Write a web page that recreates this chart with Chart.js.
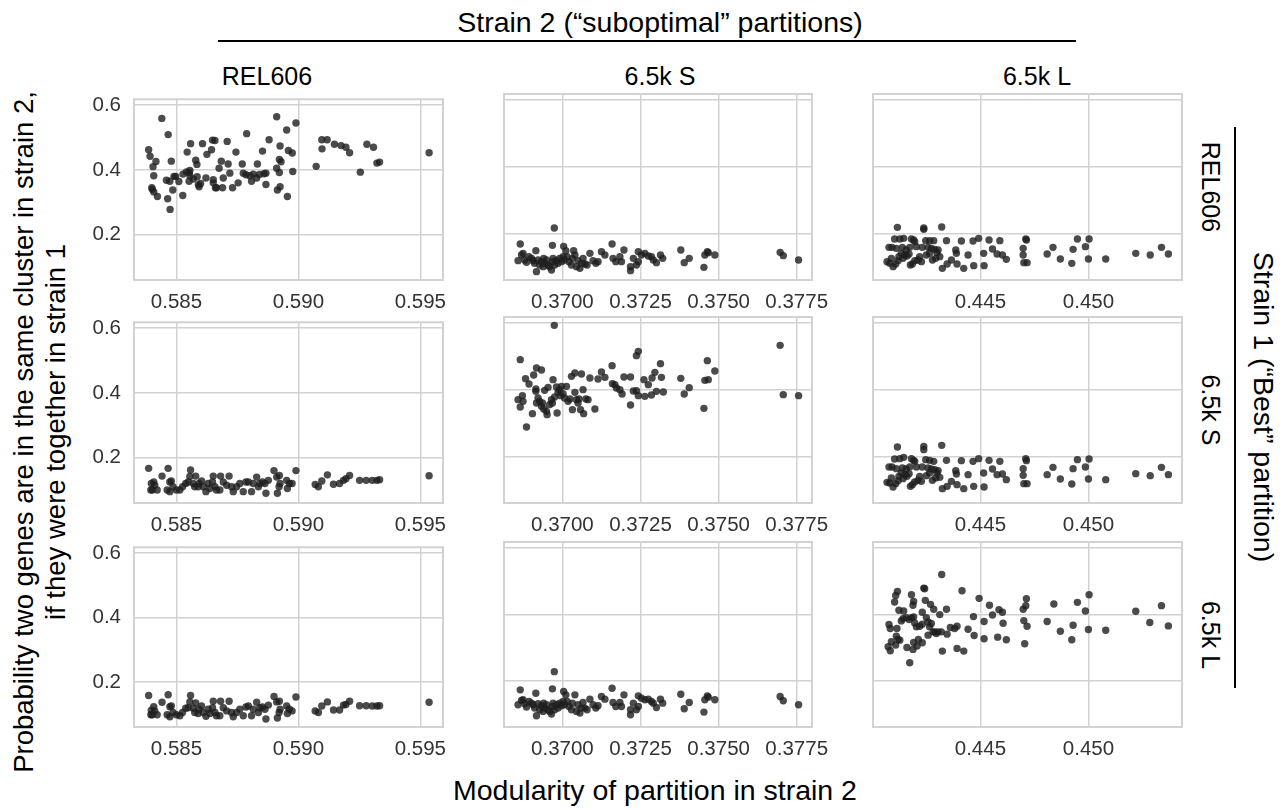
<!DOCTYPE html>
<html>
<head>
<meta charset="utf-8">
<title>Partition co-clustering</title>
<script src="https://cdn.jsdelivr.net/npm/chart.js@4.4.1/dist/chart.umd.min.js"></script>
<style>
  body { margin: 0; background: #fff; }
  #wrap { position: relative; width: 1286px; height: 810px; overflow: hidden; font-family: "Liberation Sans", Arial, sans-serif; color: #000; }
  canvas { position: absolute; }
  .lbl { position: absolute; white-space: nowrap; font-size: 25px; transform: translate(-50%, -50%); }
  .big { font-size: 28.5px; }
  .rot90 { transform: translate(-50%, -50%) rotate(90deg); }
  .rotm90 { transform: translate(-50%, -50%) rotate(-90deg); text-align: center; line-height: 32px; font-size: 27.5px; }
  .rule { position: absolute; background: #000; }
</style>
</head>
<body>
<div id="wrap">
  <div class="lbl big" style="left:660px; top:22px;">Strain 2 (“suboptimal” partitions)</div>
  <div class="rule" style="left:218px; top:40px; width:858px; height:2px;"></div>
  <div class="lbl" style="left:267px; top:76px;">REL606</div>
  <div class="lbl" style="left:660px; top:76px;">6.5k S</div>
  <div class="lbl" style="left:1037px; top:76px;">6.5k L</div>

  <div class="lbl rot90" style="left:1210px; top:187px;">REL606</div>
  <div class="lbl rot90" style="left:1210px; top:410px;">6.5k S</div>
  <div class="lbl rot90" style="left:1210px; top:635px;">6.5k L</div>
  <div class="rule" style="left:1234px; top:127px; width:2px; height:561px;"></div>
  <div class="lbl big rot90" style="left:1263px; top:407px;">Strain 1 (“Best” partition)</div>

  <div class="lbl rotm90" style="left:40px; top:432px;">Probability two genes are in the same cluster in strain 2,<br>if they were together in strain 1</div>
  <div class="lbl big" style="left:655px; top:790px;">Modularity of partition in strain 2</div>
</div>

<script>
// strain 1 partition (rows) vs strain 2 partition (columns)
const rowNames = ["REL606", "6.5k S", "6.5k L"];
const colNames = ["REL606", "6.5k S", "6.5k L"];

const yTicks = [0.2, 0.4, 0.6];
const yRange = [0.06, 0.618];

const xTicksRel = [0.585, 0.590, 0.595];
const xTicksS = [0.3700, 0.3725, 0.3750, 0.3775];
const xTicksL = [0.445, 0.450];
const xRangeRel = [0.58326, 0.59593];
const xRangeS = [0.36813, 0.37799];
const xRangeL = [0.44003, 0.45433];

// each point: [modularity in strain 2, probability]
const relRel = [[0.58386,0.462],[0.58392,0.442],[0.58416,0.426],[0.58404,0.410],[0.58407,0.382],[0.58399,0.345],[0.58401,0.340],[0.58407,0.332],[0.58422,0.318],[0.58440,0.559],[0.58466,0.509],[0.58464,0.311],[0.58474,0.278],[0.58479,0.427],[0.58485,0.338],[0.58459,0.368],[0.58473,0.365],[0.58490,0.380],[0.58497,0.380],[0.58510,0.364],[0.58526,0.321],[0.58527,0.387],[0.58541,0.394],[0.58552,0.392],[0.58544,0.455],[0.58558,0.481],[0.58555,0.398],[0.58555,0.382],[0.58552,0.365],[0.58569,0.372],[0.58579,0.430],[0.58584,0.417],[0.58585,0.379],[0.58590,0.354],[0.58593,0.348],[0.58599,0.358],[0.58607,0.481],[0.58621,0.375],[0.58625,0.448],[0.58644,0.462],[0.58648,0.492],[0.58658,0.491],[0.58651,0.370],[0.58651,0.360],[0.58660,0.345],[0.58664,0.345],[0.58675,0.405],[0.58684,0.427],[0.58689,0.345],[0.58692,0.375],[0.58708,0.488],[0.58712,0.418],[0.58719,0.390],[0.58730,0.345],[0.58744,0.455],[0.58753,0.360],[0.58770,0.418],[0.58774,0.390],[0.58788,0.512],[0.58785,0.385],[0.58801,0.382],[0.58808,0.365],[0.58815,0.387],[0.58832,0.418],[0.58829,0.375],[0.58840,0.386],[0.58853,0.458],[0.58859,0.388],[0.58867,0.390],[0.58867,0.355],[0.58880,0.493],[0.58911,0.564],[0.58911,0.405],[0.58914,0.338],[0.58922,0.432],[0.58922,0.392],[0.58925,0.348],[0.58925,0.474],[0.58929,0.425],[0.58952,0.523],[0.58955,0.318],[0.58959,0.460],[0.58975,0.452],[0.58977,0.395],[0.58990,0.545],[0.59073,0.411],[0.59096,0.493],[0.59097,0.465],[0.59118,0.493],[0.59148,0.479],[0.59175,0.475],[0.59195,0.470],[0.59210,0.453],[0.59254,0.393],[0.59281,0.479],[0.59308,0.470],[0.59322,0.421],[0.59333,0.424],[0.59536,0.453]];

const relS = [[0.36865,0.168],[0.36974,0.216],[0.36968,0.164],[0.37004,0.161],[0.37011,0.148],[0.36858,0.118],[0.36869,0.135],[0.36874,0.140],[0.36879,0.120],[0.36885,0.113],[0.36893,0.130],[0.36901,0.125],[0.36906,0.118],[0.36911,0.110],[0.36915,0.148],[0.36917,0.085],[0.36922,0.120],[0.36927,0.105],[0.36933,0.115],[0.36938,0.100],[0.36940,0.125],[0.36943,0.110],[0.36949,0.120],[0.36954,0.105],[0.36959,0.100],[0.36965,0.090],[0.36968,0.115],[0.36970,0.125],[0.36975,0.105],[0.36981,0.118],[0.36986,0.110],[0.36991,0.125],[0.36997,0.115],[0.37002,0.130],[0.37007,0.120],[0.37015,0.130],[0.37021,0.115],[0.37029,0.105],[0.37032,0.125],[0.37036,0.148],[0.37040,0.135],[0.37045,0.100],[0.37050,0.118],[0.37056,0.095],[0.37061,0.110],[0.37066,0.125],[0.37072,0.108],[0.37079,0.105],[0.37088,0.140],[0.37098,0.118],[0.37107,0.110],[0.37114,0.115],[0.37125,0.145],[0.37136,0.135],[0.37159,0.168],[0.37162,0.125],[0.37171,0.115],[0.37184,0.130],[0.37189,0.115],[0.37197,0.150],[0.37218,0.100],[0.37218,0.088],[0.37227,0.125],[0.37237,0.105],[0.37243,0.145],[0.37243,0.115],[0.37253,0.135],[0.37264,0.140],[0.37275,0.132],[0.37285,0.130],[0.37291,0.120],[0.37301,0.112],[0.37314,0.135],[0.37321,0.125],[0.37379,0.150],[0.37390,0.112],[0.37406,0.125],[0.37453,0.098],[0.37456,0.135],[0.37464,0.145],[0.37467,0.142],[0.37488,0.135],[0.37697,0.143],[0.37707,0.133],[0.37756,0.120]];

const relL = [[0.44116,0.218],[0.44238,0.216],[0.44238,0.212],[0.44321,0.219],[0.44103,0.183],[0.44127,0.183],[0.44145,0.185],[0.44181,0.183],[0.44191,0.180],[0.44196,0.175],[0.44247,0.178],[0.44265,0.178],[0.44284,0.178],[0.44343,0.178],[0.44412,0.177],[0.44466,0.177],[0.44492,0.185],[0.44540,0.180],[0.44590,0.178],[0.44710,0.183],[0.44713,0.180],[0.44949,0.183],[0.45003,0.183],[0.44077,0.158],[0.44091,0.158],[0.44111,0.155],[0.44139,0.158],[0.44157,0.150],[0.44173,0.158],[0.44204,0.160],[0.44231,0.158],[0.44258,0.158],[0.44273,0.155],[0.44289,0.152],[0.44304,0.150],[0.44386,0.150],[0.44556,0.153],[0.44698,0.155],[0.44836,0.158],[0.44929,0.152],[0.44986,0.160],[0.45338,0.158],[0.44068,0.115],[0.44080,0.110],[0.44096,0.100],[0.44108,0.108],[0.44119,0.118],[0.44123,0.130],[0.44134,0.140],[0.44150,0.135],[0.44160,0.132],[0.44170,0.138],[0.44176,0.105],[0.44185,0.108],[0.44196,0.118],[0.44211,0.120],[0.44227,0.115],[0.44250,0.135],[0.44265,0.140],[0.44278,0.120],[0.44293,0.125],[0.44312,0.130],[0.44324,0.095],[0.44346,0.108],[0.44366,0.120],[0.44389,0.140],[0.44392,0.108],[0.44423,0.095],[0.44443,0.135],[0.44469,0.103],[0.44515,0.140],[0.44517,0.103],[0.44577,0.138],[0.44602,0.135],[0.44620,0.122],[0.44698,0.135],[0.44701,0.112],[0.44716,0.112],[0.44809,0.138],[0.44870,0.123],[0.44923,0.110],[0.45000,0.123],[0.45080,0.123],[0.45219,0.140],[0.45286,0.135],[0.45370,0.138],[0.44088,0.125],[0.44142,0.125],[0.44219,0.130],[0.44299,0.142]];

const sRel = [[0.58386,0.167],[0.58466,0.167],[0.58441,0.143],[0.58397,0.120],[0.58407,0.125],[0.58401,0.100],[0.58411,0.115],[0.58421,0.100],[0.58395,0.100],[0.58473,0.125],[0.58479,0.128],[0.58462,0.100],[0.58473,0.095],[0.58486,0.110],[0.58500,0.100],[0.58514,0.100],[0.58525,0.110],[0.58538,0.120],[0.58548,0.125],[0.58555,0.142],[0.58558,0.162],[0.58569,0.120],[0.58575,0.110],[0.58579,0.143],[0.58589,0.110],[0.58593,0.120],[0.58603,0.128],[0.58610,0.110],[0.58621,0.095],[0.58630,0.120],[0.58637,0.105],[0.58648,0.125],[0.58651,0.143],[0.58658,0.110],[0.58664,0.100],[0.58678,0.100],[0.58681,0.143],[0.58692,0.125],[0.58706,0.115],[0.58716,0.143],[0.58726,0.110],[0.58733,0.095],[0.58747,0.110],[0.58760,0.120],[0.58774,0.095],[0.58785,0.125],[0.58795,0.125],[0.58808,0.095],[0.58815,0.120],[0.58829,0.140],[0.58836,0.110],[0.58842,0.120],[0.58853,0.125],[0.58863,0.120],[0.58867,0.090],[0.58877,0.130],[0.58900,0.160],[0.58911,0.140],[0.58914,0.090],[0.58921,0.110],[0.58925,0.120],[0.58922,0.145],[0.58952,0.130],[0.58955,0.105],[0.58963,0.120],[0.58974,0.120],[0.58990,0.160],[0.59069,0.117],[0.59082,0.110],[0.59096,0.128],[0.59119,0.147],[0.59144,0.118],[0.59169,0.120],[0.59185,0.130],[0.59195,0.135],[0.59210,0.145],[0.59251,0.130],[0.59278,0.130],[0.59303,0.130],[0.59322,0.130],[0.59333,0.132],[0.59536,0.144]];

const sS = [[0.36974,0.593],[0.36865,0.490],[0.36882,0.433],[0.36893,0.417],[0.36908,0.444],[0.36917,0.465],[0.36933,0.459],[0.36858,0.370],[0.36872,0.382],[0.36865,0.348],[0.36874,0.365],[0.36885,0.288],[0.36904,0.328],[0.36915,0.402],[0.36915,0.395],[0.36917,0.360],[0.36922,0.375],[0.36927,0.365],[0.36933,0.350],[0.36936,0.360],[0.36940,0.342],[0.36943,0.398],[0.36949,0.335],[0.36951,0.325],[0.36954,0.407],[0.36959,0.355],[0.36965,0.370],[0.36968,0.360],[0.36970,0.430],[0.36975,0.378],[0.36981,0.408],[0.36983,0.330],[0.36986,0.392],[0.36991,0.400],[0.36994,0.382],[0.36997,0.410],[0.37002,0.388],[0.37007,0.375],[0.37013,0.410],[0.37018,0.365],[0.37024,0.372],[0.37029,0.440],[0.37032,0.340],[0.37040,0.450],[0.37040,0.392],[0.37045,0.370],[0.37050,0.360],[0.37053,0.372],[0.37058,0.340],[0.37061,0.447],[0.37066,0.400],[0.37068,0.328],[0.37075,0.372],[0.37082,0.370],[0.37088,0.435],[0.37104,0.342],[0.37114,0.432],[0.37125,0.453],[0.37136,0.437],[0.37159,0.472],[0.37160,0.418],[0.37168,0.415],[0.37173,0.405],[0.37184,0.400],[0.37191,0.387],[0.37197,0.438],[0.37218,0.438],[0.37218,0.354],[0.37227,0.396],[0.37237,0.502],[0.37243,0.515],[0.37237,0.397],[0.37243,0.382],[0.37261,0.430],[0.37264,0.380],[0.37275,0.415],[0.37285,0.384],[0.37287,0.435],[0.37296,0.452],[0.37301,0.395],[0.37314,0.478],[0.37317,0.437],[0.37323,0.393],[0.37379,0.434],[0.37390,0.387],[0.37406,0.406],[0.37453,0.344],[0.37456,0.428],[0.37464,0.487],[0.37467,0.430],[0.37488,0.456],[0.37697,0.533],[0.37707,0.385],[0.37756,0.382]];

const sL = [[0.44116,0.228],[0.44238,0.230],[0.44238,0.220],[0.44321,0.233],[0.44103,0.192],[0.44127,0.193],[0.44145,0.197],[0.44181,0.193],[0.44191,0.188],[0.44196,0.185],[0.44247,0.190],[0.44265,0.188],[0.44284,0.185],[0.44343,0.188],[0.44412,0.187],[0.44466,0.185],[0.44492,0.193],[0.44540,0.188],[0.44590,0.185],[0.44710,0.193],[0.44713,0.187],[0.44949,0.190],[0.45003,0.192],[0.44077,0.168],[0.44091,0.168],[0.44111,0.163],[0.44139,0.165],[0.44157,0.162],[0.44173,0.168],[0.44204,0.168],[0.44231,0.168],[0.44258,0.165],[0.44273,0.162],[0.44289,0.160],[0.44304,0.157],[0.44386,0.157],[0.44556,0.162],[0.44698,0.163],[0.44836,0.167],[0.44929,0.163],[0.44986,0.168],[0.45338,0.167],[0.44068,0.122],[0.44080,0.120],[0.44096,0.108],[0.44108,0.118],[0.44119,0.127],[0.44123,0.140],[0.44134,0.150],[0.44150,0.145],[0.44160,0.140],[0.44170,0.148],[0.44176,0.110],[0.44185,0.115],[0.44196,0.123],[0.44211,0.128],[0.44227,0.125],[0.44250,0.142],[0.44265,0.150],[0.44278,0.128],[0.44293,0.135],[0.44312,0.137],[0.44324,0.103],[0.44346,0.110],[0.44366,0.125],[0.44389,0.147],[0.44392,0.115],[0.44423,0.103],[0.44443,0.145],[0.44469,0.110],[0.44515,0.150],[0.44517,0.108],[0.44577,0.145],[0.44602,0.147],[0.44620,0.130],[0.44698,0.143],[0.44701,0.118],[0.44716,0.118],[0.44809,0.145],[0.44870,0.132],[0.44923,0.117],[0.45000,0.132],[0.45080,0.130],[0.45219,0.148],[0.45286,0.142],[0.45370,0.145],[0.44088,0.135],[0.44142,0.133],[0.44219,0.140],[0.44299,0.150]];

const lRel = [[0.58386,0.158],[0.58466,0.160],[0.58441,0.137],[0.58397,0.112],[0.58407,0.123],[0.58401,0.098],[0.58411,0.110],[0.58421,0.098],[0.58395,0.098],[0.58473,0.123],[0.58479,0.125],[0.58462,0.098],[0.58473,0.092],[0.58486,0.105],[0.58500,0.098],[0.58514,0.095],[0.58525,0.105],[0.58538,0.118],[0.58548,0.120],[0.58555,0.138],[0.58558,0.158],[0.58569,0.118],[0.58575,0.105],[0.58579,0.135],[0.58589,0.102],[0.58593,0.115],[0.58603,0.125],[0.58610,0.105],[0.58621,0.093],[0.58630,0.115],[0.58637,0.102],[0.58648,0.120],[0.58651,0.140],[0.58658,0.105],[0.58664,0.095],[0.58678,0.095],[0.58681,0.140],[0.58692,0.120],[0.58706,0.110],[0.58716,0.140],[0.58726,0.105],[0.58733,0.092],[0.58747,0.105],[0.58760,0.115],[0.58774,0.095],[0.58785,0.122],[0.58795,0.125],[0.58808,0.095],[0.58815,0.115],[0.58829,0.137],[0.58836,0.105],[0.58842,0.120],[0.58853,0.122],[0.58863,0.115],[0.58867,0.085],[0.58877,0.128],[0.58900,0.155],[0.58911,0.138],[0.58914,0.088],[0.58921,0.105],[0.58925,0.115],[0.58922,0.140],[0.58952,0.125],[0.58955,0.102],[0.58963,0.115],[0.58974,0.110],[0.58990,0.153],[0.59069,0.110],[0.59082,0.105],[0.59096,0.125],[0.59119,0.138],[0.59144,0.113],[0.59169,0.113],[0.59185,0.128],[0.59195,0.130],[0.59210,0.140],[0.59251,0.126],[0.59278,0.126],[0.59303,0.125],[0.59322,0.125],[0.59333,0.126],[0.59536,0.137]];

const lS = [[0.36865,0.172],[0.36974,0.227],[0.36968,0.175],[0.37004,0.167],[0.37011,0.157],[0.36858,0.127],[0.36869,0.140],[0.36874,0.142],[0.36879,0.130],[0.36885,0.120],[0.36893,0.137],[0.36901,0.132],[0.36906,0.127],[0.36911,0.117],[0.36915,0.162],[0.36917,0.094],[0.36922,0.130],[0.36927,0.112],[0.36933,0.124],[0.36938,0.107],[0.36940,0.132],[0.36943,0.117],[0.36949,0.127],[0.36954,0.112],[0.36959,0.107],[0.36965,0.099],[0.36968,0.122],[0.36970,0.132],[0.36975,0.112],[0.36981,0.127],[0.36986,0.117],[0.36991,0.132],[0.36997,0.124],[0.37002,0.137],[0.37007,0.127],[0.37015,0.137],[0.37021,0.122],[0.37029,0.112],[0.37032,0.132],[0.37040,0.157],[0.37045,0.107],[0.37050,0.127],[0.37056,0.102],[0.37061,0.117],[0.37066,0.134],[0.37072,0.117],[0.37079,0.112],[0.37088,0.144],[0.37098,0.127],[0.37107,0.117],[0.37114,0.124],[0.37125,0.152],[0.37136,0.144],[0.37159,0.177],[0.37162,0.134],[0.37171,0.122],[0.37184,0.134],[0.37189,0.122],[0.37197,0.157],[0.37218,0.112],[0.37218,0.097],[0.37227,0.132],[0.37237,0.112],[0.37243,0.154],[0.37243,0.122],[0.37253,0.147],[0.37264,0.142],[0.37275,0.144],[0.37285,0.137],[0.37291,0.132],[0.37301,0.119],[0.37314,0.144],[0.37321,0.132],[0.37379,0.159],[0.37390,0.115],[0.37406,0.134],[0.37453,0.105],[0.37456,0.142],[0.37464,0.154],[0.37467,0.150],[0.37488,0.142],[0.37697,0.152],[0.37707,0.139],[0.37756,0.127]];

const lL = [[0.44321,0.520],[0.44238,0.479],[0.44242,0.477],[0.44415,0.471],[0.44116,0.469],[0.44108,0.457],[0.44181,0.459],[0.44103,0.437],[0.44191,0.439],[0.44245,0.442],[0.44269,0.430],[0.44284,0.415],[0.44494,0.448],[0.44542,0.427],[0.44713,0.447],[0.44698,0.415],[0.44710,0.426],[0.44840,0.431],[0.44949,0.436],[0.45003,0.459],[0.44986,0.410],[0.45219,0.409],[0.45338,0.426],[0.44123,0.412],[0.44145,0.410],[0.44188,0.427],[0.44231,0.406],[0.44312,0.399],[0.44343,0.415],[0.44586,0.414],[0.44602,0.406],[0.44605,0.373],[0.44468,0.393],[0.44517,0.378],[0.44556,0.398],[0.44701,0.381],[0.44716,0.364],[0.44809,0.378],[0.44929,0.367],[0.45000,0.354],[0.45080,0.352],[0.45284,0.375],[0.45370,0.365],[0.44077,0.369],[0.44083,0.357],[0.44114,0.357],[0.44134,0.380],[0.44142,0.387],[0.44157,0.390],[0.44170,0.384],[0.44181,0.390],[0.44191,0.392],[0.44196,0.374],[0.44204,0.362],[0.44219,0.364],[0.44231,0.370],[0.44250,0.390],[0.44258,0.377],[0.44265,0.362],[0.44273,0.372],[0.44281,0.347],[0.44289,0.347],[0.44304,0.347],[0.44319,0.347],[0.44346,0.340],[0.44361,0.360],[0.44381,0.357],[0.44392,0.364],[0.44443,0.355],[0.44471,0.336],[0.44517,0.326],[0.44580,0.331],[0.44620,0.323],[0.44705,0.311],[0.44870,0.349],[0.44923,0.323],[0.44111,0.334],[0.44119,0.324],[0.44127,0.322],[0.44088,0.317],[0.44073,0.302],[0.44083,0.290],[0.44108,0.307],[0.44160,0.300],[0.44188,0.294],[0.44191,0.315],[0.44207,0.304],[0.44231,0.314],[0.44213,0.324],[0.44173,0.254],[0.44324,0.289],[0.44392,0.297],[0.44423,0.289],[0.44258,0.337],[0.44296,0.342]];

const panels = [
  [relRel, relS, relL],
  [sRel, sS, sL],
  [lRel, lS, lL]
];
const colTicks = [xTicksRel, xTicksS, xTicksL];
const colRanges = [xRangeRel, xRangeS, xRangeL];
const colDecimals = [3, 4, 3];

// plot area edges in the page
const colEdges = [[134, 443], [504, 812], [873, 1182]];
const rowEdges = [[94, 280], [317, 503], [542, 727]];

const gridColor = '#d2d2d2';
const tickColor = '#333';
const fontFamily = '"Liberation Sans", Arial, sans-serif';

const framePlugin = {
  id: 'frame',
  beforeDatasetsDraw(chart) {
    const a = chart.chartArea;
    const ctx = chart.ctx;
    ctx.save();
    ctx.strokeStyle = gridColor;
    ctx.lineWidth = 2;
    ctx.strokeRect(a.left, a.top, a.right - a.left, a.bottom - a.top);
    ctx.restore();
  }
};

const wrap = document.getElementById('wrap');
const padT = 20, padR = 44, padB = 40;

for (let r = 0; r < 3; r++) {
  for (let c = 0; c < 3; c++) {
    const padL = c === 0 ? 70 : 4;
    const [x0, x1] = colEdges[c];
    const [y0, y1] = rowEdges[r];
    const cv = document.createElement('canvas');
    cv.width = padL + (x1 - x0) + padR;
    cv.height = padT + (y1 - y0) + padB;
    cv.style.left = (x0 - padL) + 'px';
    cv.style.top = (y0 - padT) + 'px';
    wrap.appendChild(cv);

    const xt = colTicks[c];
    const dec = colDecimals[c];

    new Chart(cv, {
      type: 'scatter',
      data: {
        datasets: [{
          data: panels[r][c].map(p => ({ x: p[0], y: p[1] })),
          backgroundColor: 'rgba(30,30,30,0.8)',
          borderWidth: 0,
          pointRadius: 3.7,
          pointHoverRadius: 3.7
        }]
      },
      options: {
        responsive: false,
        animation: false,
        devicePixelRatio: 1,
        layout: { padding: { top: padT, right: padR, left: 0, bottom: 0 } },
        plugins: { legend: { display: false }, tooltip: { enabled: false } },
        scales: {
          x: {
            type: 'linear',
            min: colRanges[c][0],
            max: colRanges[c][1],
            afterBuildTicks: s => { s.ticks = xt.map(v => ({ value: v })); },
            afterFit: s => { s.height = padB; },
            grid: { color: gridColor, lineWidth: 1.5, drawTicks: false },
            border: { display: false },
            ticks: {
              autoSkip: false, maxRotation: 0, padding: 10, color: tickColor,
              font: { size: 20.5, family: fontFamily },
              callback: v => Number(v).toFixed(dec)
            }
          },
          y: {
            type: 'linear',
            min: yRange[0],
            max: yRange[1],
            afterBuildTicks: s => { s.ticks = yTicks.map(v => ({ value: v })); },
            afterFit: s => { s.width = padL; },
            grid: { color: gridColor, lineWidth: 1.5, drawTicks: false },
            border: { display: false },
            ticks: {
              display: c === 0, padding: 13, color: tickColor,
              font: { size: 20.5, family: fontFamily },
              callback: v => Number(v).toFixed(1)
            }
          }
        }
      },
      plugins: [framePlugin]
    });
  }
}
</script>
</body>
</html>
